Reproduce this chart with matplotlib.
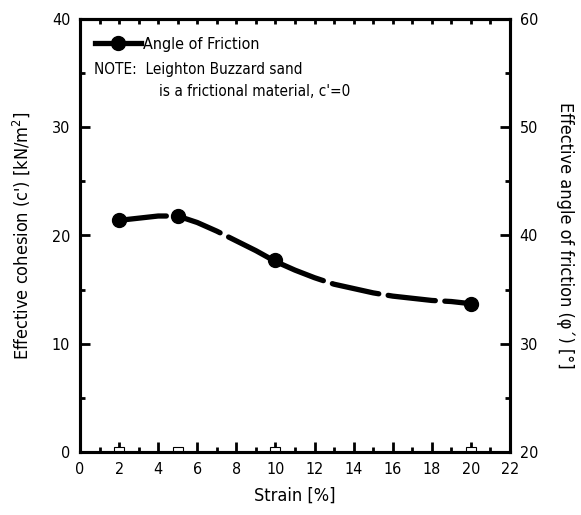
import matplotlib
matplotlib.use('Agg')
import matplotlib.pyplot as plt
from matplotlib.ticker import MultipleLocator
from matplotlib.lines import Line2D

plt.rcParams['font.family'] = ['DejaVu Sans']
plt.rcParams['font.stretch'] = 'condensed'

# friction angle curve (right axis, degrees)
curve_strain = [2, 3, 4, 5, 6, 7, 8, 9, 10, 11, 12, 13, 14, 15, 16, 17, 18, 19, 20]
curve_phi = [41.4, 41.6, 41.8, 41.8, 41.2, 40.4, 39.5, 38.6, 37.6, 36.8,
             36.1, 35.5, 35.1, 34.7, 34.4, 34.2, 34.0, 33.9, 33.7]
# measured points
pt_strain = [2, 5, 10, 20]
pt_phi = [41.4, 41.8, 37.7, 33.7]
pt_cohesion = [0, 0, 0, 0]

fig = plt.figure(figsize=(5.81, 5.15), dpi=100)
ax = fig.add_axes([80/581, 63/515, 430/581, 433/515])
ax2 = ax.twinx()

ax.plot(pt_strain, pt_cohesion, ls='none', marker='s', ms=6.5, mfc='white',
        mec='black', mew=0.8)

ax2.plot(curve_strain, curve_phi, color='black', lw=3.8,
         ls=(0, (9, 1.8)), solid_capstyle='round', dash_capstyle='round')
ax2.plot(pt_strain, pt_phi, ls='none', marker='o', ms=10, color='black')

ax.set_xlim(0, 22)
ax.set_ylim(0, 40)
ax2.set_ylim(20, 60)

ax.xaxis.set_major_locator(MultipleLocator(2))
ax.xaxis.set_minor_locator(MultipleLocator(1))
ax.yaxis.set_major_locator(MultipleLocator(10))
ax.yaxis.set_minor_locator(MultipleLocator(5))
ax2.yaxis.set_major_locator(MultipleLocator(10))
ax2.yaxis.set_minor_locator(MultipleLocator(5))

for a in (ax, ax2):
    for s in a.spines.values():
        s.set_linewidth(2.2)
ax.tick_params(which='major', direction='in', length=7, width=2, labelsize=11.5, pad=7)
ax.tick_params(which='minor', direction='in', length=3.5, width=2)

# short ticks along the top edge
top = ax.secondary_xaxis('top')
top.xaxis.set_major_locator(MultipleLocator(1))
top.tick_params(direction='in', length=3.5, width=2, labeltop=False)
top.spines['top'].set_linewidth(2.2)

ax2.tick_params(which='major', direction='in', length=7, width=2, labelsize=11.5, pad=7)
ax2.tick_params(which='minor', direction='in', length=3.5, width=2)

ax.set_xlabel('Strain [%]', fontsize=13, labelpad=7)
ax.set_ylabel("Effective cohesion (c') [kN/m$^2$]", fontsize=13, labelpad=14)
ax2.set_ylabel('Effective angle of friction (\u03c6\u00b4) [\u00b0]', fontsize=13,
               rotation=270, labelpad=26)

handle = Line2D([], [], color='black', lw=3.8, marker='o', ms=10)
ax.legend([handle], ['Angle of Friction'], loc='upper left', frameon=False,
          fontsize=11.5, handlelength=2.9, handletextpad=0.1,
          bbox_to_anchor=(0.008, 0.985), borderaxespad=0.3)
ax.text(0.033, 0.883, 'NOTE:  Leighton Buzzard sand', transform=ax.transAxes,
        fontsize=11, va='center')
ax.text(0.183, 0.832, "is a frictional material, c'=0", transform=ax.transAxes,
        fontsize=11, va='center')

fig.savefig('out.png', dpi=100)
